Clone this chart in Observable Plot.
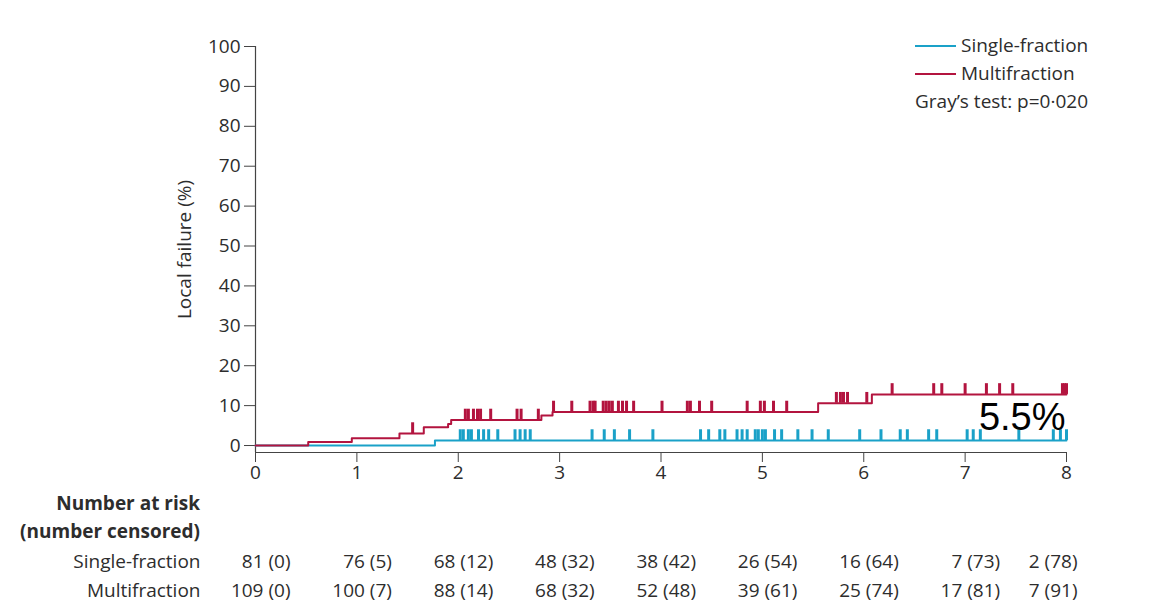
<!DOCTYPE html>
<html><head><meta charset="utf-8">
<script src="https://cdn.jsdelivr.net/npm/d3@7"></script>
<script src="https://cdn.jsdelivr.net/npm/@observablehq/plot@0.6"></script>
<style>
body{margin:0;background:#fff;}
#wrap{position:relative;width:1160px;height:616px;font-family:"Open Sans",sans-serif;color:#2d2d2d;overflow:hidden;}
#wrap svg{display:block;}
#legend{position:absolute;left:915px;top:31px;font-size:19px;line-height:28px;white-space:nowrap;}
#legend .sw{display:inline-block;width:41px;height:2px;vertical-align:middle;margin-right:5px;position:relative;top:-1px;}
#header{position:absolute;left:0;top:489px;width:200px;text-align:right;font-weight:bold;font-size:19px;line-height:28px;}
</style></head><body><div id="wrap"></div>
<script>
// ---- data ----
const groups = ["Single-fraction", "Multifraction"];
const colors = ["#1aa1c8", "#b3143f"];

const singleTimes  = [0, 1.77, 8.0];
const singleLevels = [0, 1.25, 1.25];
const multiTimes   = [0, 0.52, 0.95, 1.42, 1.66, 1.90, 1.93, 2.82, 2.93, 5.55, 6.08, 8.0];
const multiLevels  = [0, 0.9, 1.8, 3.0, 4.6, 5.4, 6.4, 7.5, 8.4, 10.6, 12.8, 12.8];

const singleCensorTimes = [2.02, 2.05, 2.10, 2.13, 2.20, 2.25, 2.30, 2.39, 2.56, 2.61, 2.66, 2.71,
  3.32, 3.44, 3.54, 3.69, 3.92, 4.39, 4.47, 4.58, 4.63, 4.75, 4.80, 4.85, 4.93, 4.96, 5.00, 5.03,
  5.12, 5.19, 5.35, 5.49, 5.65, 5.96, 6.17, 6.36, 6.43, 6.64, 6.72, 7.02, 7.08, 7.15, 7.53,
  7.87, 7.94, 8.00];
const multiCensorTimes = [1.55, 2.07, 2.10, 2.15, 2.19, 2.22, 2.32, 2.58, 2.62, 2.79, 2.94, 3.12,
  3.30, 3.33, 3.35, 3.43, 3.46, 3.49, 3.52, 3.58, 3.62, 3.66, 3.73, 4.01, 4.26, 4.29, 4.38, 4.50,
  4.85, 4.98, 5.02, 5.11, 5.24, 5.73, 5.77, 5.80, 5.84, 6.03, 6.28, 6.69, 6.77, 7.00, 7.21, 7.34,
  7.47, 7.96, 7.98, 8.00];

const xTicks = [0, 1, 2, 3, 4, 5, 6, 7, 8];
const yTicks = [0, 10, 20, 30, 40, 50, 60, 70, 80, 90, 100];

const riskTimes = [0, 1, 2, 3, 4, 5, 6, 7, 8];
const singleAtRisk   = [81, 76, 68, 48, 38, 26, 16, 7, 2];
const singleCensored = [0, 5, 12, 32, 42, 54, 64, 73, 78];
const multiAtRisk    = [109, 100, 88, 68, 52, 39, 25, 17, 7];
const multiCensored  = [0, 7, 14, 32, 48, 61, 74, 81, 91];

const annotation = "5.5%";
const grayTest = "Gray’s test: p=0·020";

// ---- build tables ----
function curve(times, levels) { return times.map((t, i) => ({t, v: levels[i]})); }
function censors(ct, times, levels) {
  return ct.map(t => ({t, v: levels[Math.max(0, d3.bisectRight(times, t) - 1)]}));
}
const singleCurve = curve(singleTimes, singleLevels);
const multiCurve = curve(multiTimes, multiLevels);
const singleCens = censors(singleCensorTimes, singleTimes, singleLevels);
const multiCens = censors(multiCensorTimes, multiTimes, multiLevels);

const yBottom = -1.75;
const tickLen = 2.7;

const main = Plot.plot({
  width: 1160, height: 480,
  marginLeft: 255, marginRight: 94, marginTop: 46, marginBottom: 28,
  style: {fontFamily: "Open Sans", fontSize: "19px", color: "#2d2d2d", background: "white", overflow: "visible"},
  x: {domain: [0, 8]},
  y: {domain: [yBottom, 100]},
  marks: [
    Plot.axisY({ticks: yTicks, tickSize: 11, tickPadding: 4, stroke: "#444",
      label: "Local failure (%)", labelAnchor: "center", labelOffset: 78, labelArrow: "none", fontSize: 19}),
    Plot.axisX({ticks: xTicks, tickSize: 10, tickPadding: 3, stroke: "#444", label: null, fontSize: 19}),
    Plot.ruleX([0], {y1: yBottom, y2: 100, stroke: "#444", strokeWidth: 1.2}),
    Plot.ruleY([yBottom], {x1: 0, x2: 8, stroke: "#444", strokeWidth: 1.2}),
    Plot.line(singleCurve, {x: "t", y: "v", curve: "step-after", stroke: colors[0], strokeWidth: 2}),
    Plot.ruleX(singleCens, {x: "t", y1: "v", y2: d => d.v + tickLen, stroke: colors[0], strokeWidth: 3}),
    Plot.line(multiCurve, {x: "t", y: "v", curve: "step-after", stroke: colors[1], strokeWidth: 2}),
    Plot.ruleX(multiCens, {x: "t", y1: "v", y2: d => d.v + tickLen, stroke: colors[1], strokeWidth: 3}),
    Plot.text([annotation], {x: 8, y: 7.0, text: d => d, textAnchor: "end", dx: -1,
      fontSize: 38, fontFamily: "Liberation Sans", fill: "#000"})
  ]
});

const riskRows = [];
riskTimes.forEach((t, i) => {
  riskRows.push({t, g: groups[0], label: `${singleAtRisk[i]} (${singleCensored[i]})`});
  riskRows.push({t, g: groups[1], label: `${multiAtRisk[i]} (${multiCensored[i]})`});
});

const risk = Plot.plot({
  width: 1160, height: 136,
  marginLeft: 255, marginRight: 94, marginTop: 0, marginBottom: 0,
  style: {fontFamily: "Open Sans", fontSize: "19px", color: "#2d2d2d", background: "white", overflow: "visible"},
  x: {domain: [0, 8], axis: null},
  y: {type: "point", domain: groups, range: [81, 110], padding: 0},
  marks: [
    Plot.axisY({tickSize: 0, tickPadding: 55, label: null, fontSize: 19}),
    Plot.text(riskRows.filter(d => d.t < 8), {x: "t", y: "g", text: "label", textAnchor: "end", dx: 35, fontSize: 19}),
    Plot.text(riskRows.filter(d => d.t === 8), {x: "t", y: "g", text: "label", textAnchor: "end", dx: 11, fontSize: 19})
  ]
});

const wrap = document.getElementById("wrap");
wrap.appendChild(main);
wrap.appendChild(risk);

const legend = document.createElement("div");
legend.id = "legend";
legend.innerHTML = groups.map((g, i) => `<div><span class="sw" style="background:${colors[i]}"></span>${g}</div>`).join("") +
  `<div>${grayTest}</div>`;
wrap.appendChild(legend);

const header = document.createElement("div");
header.id = "header";
header.innerHTML = "<div>Number at risk</div><div>(number censored)</div>";
wrap.appendChild(header);
</script>
</body></html>
